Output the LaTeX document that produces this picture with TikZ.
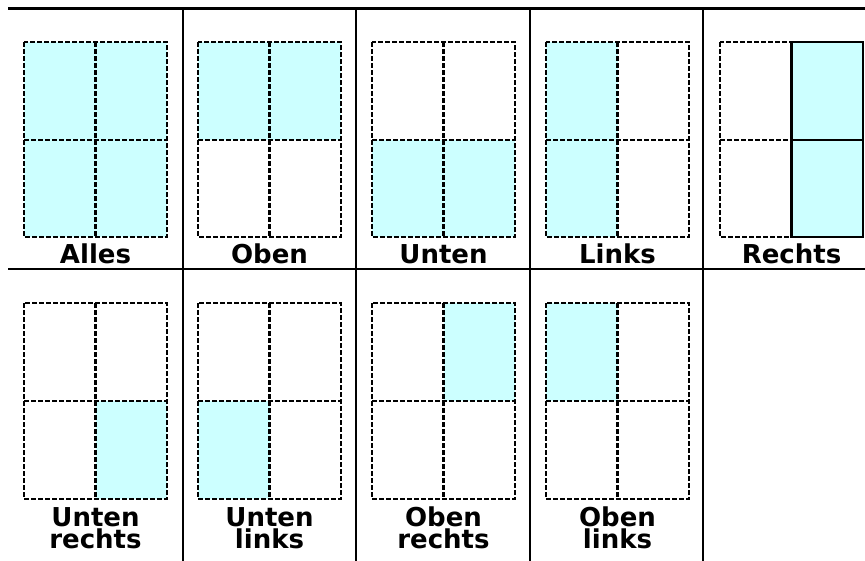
\documentclass[tikz,border=0pt]{standalone}
\usepackage{fontspec}
\setmainfont{DejaVu Sans}
\usetikzlibrary{positioning}
\definecolor{paleCyan}{HTML}{CCFFFF}
\tikzset{
  tableline/.style={line width=2pt},
  gridline/.style={line width=1.8pt, dash pattern=on 3.75pt off 1.5pt},
  solidline/.style={line width=1.8pt},
  modelabel/.style={font=\bfseries\fontsize{19.5}{16.5}\selectfont, align=center, anchor=base, inner sep=0pt},
}
\begin{document}
\begin{tikzpicture}[x=0.75pt, y=-0.75pt]
\useasboundingbox (0,0) rectangle (865,561);
% table rules
\draw [tableline] (8,8.5) -- (865,8.5);
\draw [tableline] (8,269) -- (865,269);
\draw [tableline] (183,8.5) -- (183,561);
\draw [tableline] (356,8.5) -- (356,561);
\draw [tableline] (530,8.5) -- (530,561);
\draw [tableline] (703,8.5) -- (703,561);
% Alles
\fill [paleCyan] (24,42) rectangle (167,237);
\draw [gridline] (24,42) rectangle (167,237);
\draw [gridline] (95.5,42) -- (95.5,237);
\draw [gridline] (24,140) -- (167,140);
\node (lblAlles) at (95.5,263) [modelabel] {Alles};
% Oben
\fill [paleCyan] (198,42) rectangle (341,140);
\draw [gridline] (198,42) rectangle (341,237);
\draw [gridline] (269.5,42) -- (269.5,237);
\draw [gridline] (198,140) -- (341,140);
\node (lblOben) at (269.5,263) [modelabel] {Oben};
% Unten
\fill [paleCyan] (372,140) rectangle (515,237);
\draw [gridline] (372,42) rectangle (515,237);
\draw [gridline] (443.5,42) -- (443.5,237);
\draw [gridline] (372,140) -- (515,140);
\node (lblUnten) at (443.5,263) [modelabel] {Unten};
% Links
\fill [paleCyan] (546,42) rectangle (617.5,237);
\draw [gridline] (546,42) rectangle (689,237);
\draw [gridline] (617.5,42) -- (617.5,237);
\draw [gridline] (546,140) -- (689,140);
\node (lblLinks) at (617.5,263) [modelabel] {Links};
% Rechts
\fill [paleCyan] (791.5,42) rectangle (863,237);
\draw [gridline] (720,42) rectangle (863,237);
\draw [gridline] (791.5,42) -- (791.5,237);
\draw [gridline] (720,140) -- (863,140);
\draw [solidline] (791.5,42) rectangle (863,237);
\draw [solidline] (791.5,140) -- (863,140);
\node (lblRechts) at (791.5,263) [modelabel] {Rechts};
% Unten rechts
\fill [paleCyan] (95.5,401) rectangle (167,499);
\draw [gridline] (24,303) rectangle (167,499);
\draw [gridline] (95.5,303) -- (95.5,499);
\draw [gridline] (24,401) -- (167,401);
\node (lblUntenRechts) at (95.5,548) [modelabel] {Unten\\rechts};
% Unten links
\fill [paleCyan] (198,401) rectangle (269.5,499);
\draw [gridline] (198,303) rectangle (341,499);
\draw [gridline] (269.5,303) -- (269.5,499);
\draw [gridline] (198,401) -- (341,401);
\node (lblUntenLinks) at (269.5,548) [modelabel] {Unten\\links};
% Oben rechts
\fill [paleCyan] (443.5,303) rectangle (515,401);
\draw [gridline] (372,303) rectangle (515,499);
\draw [gridline] (443.5,303) -- (443.5,499);
\draw [gridline] (372,401) -- (515,401);
\node (lblObenRechts) at (443.5,548) [modelabel] {Oben\\rechts};
% Oben links
\fill [paleCyan] (546,303) rectangle (617.5,401);
\draw [gridline] (546,303) rectangle (689,499);
\draw [gridline] (617.5,303) -- (617.5,499);
\draw [gridline] (546,401) -- (689,401);
\node (lblObenLinks) at (617.5,548) [modelabel] {Oben\\links};
\end{tikzpicture}
\end{document}
